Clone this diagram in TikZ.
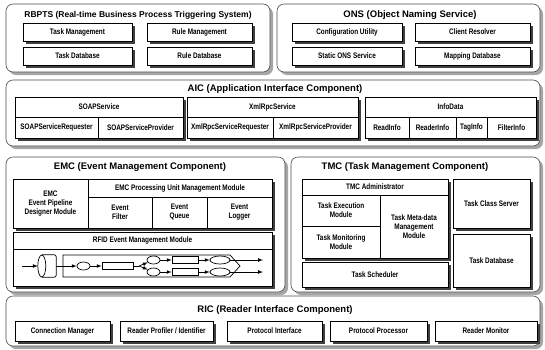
\documentclass[tikz,border=0pt]{standalone}
\usepackage{fontspec}
\setmainfont{Liberation Sans}
\newfontfamily\narrowfont[FakeStretch=0.8]{Liberation Sans}
\usetikzlibrary{shadows,shapes.geometric}

\begin{document}
\begin{tikzpicture}[x=1pt, y=-1pt, >=latex,
  group/.style={draw=black!70, line width=0.6pt, rounded corners=7pt, fill=white,
    general shadow={fill=black!35, shadow xshift=3pt, shadow yshift=-3pt}},
  grouptitle/.style={font=\fontsize{9.5}{11}\selectfont\bfseries},
  modbox/.style={draw, line width=0.9pt, fill=white, align=center, inner sep=1pt,
    font=\narrowfont\fontsize{8}{9}\selectfont\bfseries,
    general shadow={fill=black!75, shadow xshift=2.5pt, shadow yshift=-2.5pt}},
  cell/.style={draw, line width=0.9pt, fill=white, align=center, inner sep=1pt,
    font=\narrowfont\fontsize{8}{9}\selectfont\bfseries},
  tblbox/.style={fill=white, general shadow={fill=black!75, shadow xshift=2.5pt, shadow yshift=-2.5pt}},
  pipe/.style={draw, line width=0.7pt, fill=white, inner sep=0pt},
  oval/.style={pipe, ellipse},
  flow/.style={->, line width=0.7pt},
  link/.style={line width=0.7pt}]
  \useasboundingbox (0,0) rectangle (545,349);

  % group frames
  \draw[group] (6,4) rectangle (270,72);
  \draw[group] (277,4) rectangle (540,72);
  \draw[group] (6,80) rectangle (540,146);
  \draw[group] (6,157) rectangle (285,292);
  \draw[group] (291,157) rectangle (540,292);
  \draw[group] (6,296) rectangle (540,346);
  \node[grouptitle, font=\fontsize{8.5}{10}\selectfont\bfseries] (rbptst) at (138,15) {RBPTS (Real-time Business Process Triggering System)};
  \node[grouptitle] (onst) at (410,15) {ONS (Object Naming Service)};
  \node[grouptitle] (aict) at (275,89) {AIC (Application Interface Component)};
  \node[grouptitle] (emct) at (140,167) {EMC (Event Management Component)};
  \node[grouptitle] (tmct) at (405,167) {TMC (Task Management Component)};
  \node[grouptitle] (rict) at (275,310) {RIC (Reader Interface Component)};

  % RBPTS and ONS
  \foreach \n/\x/\y/\w/\t in {tm/77.5/32/109/Task Management, rm/199.5/32/105/Rule Management,
      td/77.5/56/109/Task Database, rd/199.5/56/105/Rule Database,
      cu/347/32/110/Configuration Utility, cr/472.5/32/115/Client Resolver,
      so/347/56/110/Static ONS Service, md/472.5/56/115/Mapping Database}
    \node[modbox, minimum width=\w pt, minimum height=18pt] (\n) at (\x,\y) {\t};

  % AIC tables
  \draw[tblbox] (15,97) rectangle (183,138);
  \draw[tblbox] (187,97) rectangle (358,138);
  \draw[tblbox] (365,97) rectangle (536,138);
  \foreach \n/\x/\w/\t in {soap/99/168/SOAPService, xml/272.5/171/XmlRpcService, info/450.5/171/InfoData}
    \node[cell, minimum width=\w pt, minimum height=20pt] (\n) at (\x,107) {\t};
  \foreach \n/\x/\w/\t in {soapreq/56.5/83/SOAPServiceRequester, soapprov/140.5/85/SOAPServiceProvider,
      xmlreq/230/86/XmlRpcServiceRequester, xmlprov/315.5/85/XmlRpcServiceProvider,
      readi/387/44/ReadInfo, readeri/432.5/47/ReaderInfo, tagi/471.5/31/TagInfo, filteri/511.5/49/FilterInfo}
    \node[cell, minimum width=\w pt, minimum height=21pt] (\n) at (\x,127.5) {\t};

  % EMC
  \node[modbox, minimum width=75pt, minimum height=49pt] (designer) at (50.5,203.5) {EMC\\Event Pipeline\\Designer Module};
  \draw[tblbox] (88,179) rectangle (272,228);
  \node[cell, minimum width=184pt, minimum height=18pt] (proc) at (180,188) {EMC Processing Unit Management Module};
  \foreach \n/\x/\w/\t in {filter/120/64/Filter, queue/179.5/55/Queue, logger/239.5/65/Logger}
    \node[cell, minimum width=\w pt, minimum height=31pt] (\n) at (\x,212.5) {Event\\\t};
  \draw[tblbox] (13,232) rectangle (272,286);
  \node[cell, minimum width=259pt, minimum height=17pt] (rfidt) at (142.5,240.5) {RFID Event Management Module};
  \node[cell, minimum width=259pt, minimum height=37pt] (rfid) at (142.5,267.5) {};

  % event pipeline
  \coordinate (in) at (22,266);
  \node[minimum width=18pt, minimum height=22pt, inner sep=0pt] (cyl) at (47,266) {};
  \draw[link, fill=white, rounded corners=2pt] ([xshift=4pt]cyl.north west) -- (cyl.north east)
    -- (cyl.south east) -- ([xshift=4pt]cyl.south west);
  \draw[link] ([xshift=4pt]cyl.west) ellipse [x radius=4pt, y radius=11pt];
  \draw[link] (63,255) -- (230,255) -- (240,266) -- (230,277) -- (63,277) -- cycle;
  \coordinate (encin) at (63,266);
  \coordinate (split) at (139,266);
  \coordinate (ou) at (234.5,260);
  \coordinate (ol) at (234.5,272);
  \coordinate (xu) at (263,260);
  \coordinate (xl) at (263,272);
  \node[oval, minimum width=13pt, minimum height=8pt] (o1) at (83.5,266) {};
  \node[pipe, minimum width=31pt, minimum height=7pt] (r1) at (117.5,266) {};
  \foreach \r/\y in {u/260, l/272} {
    \node[oval, minimum width=13pt, minimum height=8pt] (o2\r) at (153.5,\y) {};
    \node[pipe, minimum width=26pt, minimum height=7pt] (r2\r) at (185,\y) {};
    \node[oval, minimum width=20pt, minimum height=8pt] (e2\r) at (220,\y) {};
    \draw[flow] (split) -- (o2\r);
    \draw[flow] (o2\r) -- (r2\r);
    \draw[flow] (r2\r) -- (e2\r);
    \draw[link] (e2\r) -- (o\r);
    \draw[flow] (o\r) -- (x\r);
  }
  \draw[flow] (in) -- ([xshift=0pt]cyl.west);
  \draw[link] (cyl.east) -- (encin);
  \draw[flow] (encin) -- (o1);
  \draw[flow] (o1) -- (r1);
  \draw[link] (r1) -- (split);

  % TMC
  \draw[tblbox] (302,179) rectangle (448,258);
  \node[cell, minimum width=146pt, minimum height=16pt] (admin) at (375,187) {TMC Administrator};
  \node[cell, minimum width=78pt, minimum height=31pt] (exec) at (341,210.5) {Task Execution\\Module};
  \node[cell, minimum width=78pt, minimum height=32pt] (mon) at (341,242) {Task Monitoring\\Module};
  \node[cell, minimum width=68pt, minimum height=63pt] (meta) at (414,226.5) {Task Meta-data\\Management\\Module};
  \node[modbox, minimum width=146pt, minimum height=25pt] (sched) at (375,274.5) {Task Scheduler};
  \node[modbox, minimum width=77pt, minimum height=49pt] (tcs) at (491.5,203.5) {Task Class Server};
  \node[modbox, minimum width=77pt, minimum height=53pt] (tdb) at (491.5,260.5) {Task Database};

  % RIC
  \foreach \n/\x/\w/\t in {conn/62.5/95/Connection Manager, prof/166.5/93/{Reader Profiler / Identifier},
      pint/274.5/95/Protocol Interface, pproc/378.5/97/Protocol Processor, rmon/486/102/Reader Monitor}
    \node[modbox, minimum width=\w pt, minimum height=20pt] (\n) at (\x,331) {\t};
\end{tikzpicture}
\end{document}
